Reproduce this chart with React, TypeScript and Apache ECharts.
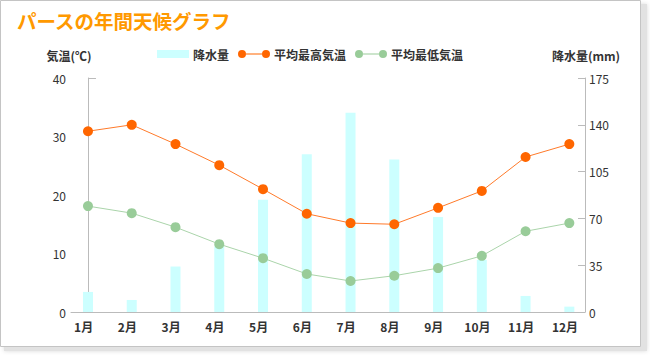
import React, { useEffect, useRef } from "react";
import * as echarts from "echarts";

const months = ["1月", "2月", "3月", "4月", "5月", "6月", "7月", "8月", "9月", "10月", "11月", "12月"];
const rainfall = [15, 9, 34, 49, 84, 118, 149, 114, 71, 39, 12, 4];
const highTemp = [30.9, 32.0, 28.7, 25.1, 21.0, 16.8, 15.2, 15.0, 17.8, 20.7, 26.5, 28.7];
const lowTemp = [18.1, 16.9, 14.5, 11.6, 9.2, 6.5, 5.3, 6.2, 7.5, 9.6, 13.8, 15.2];
const tempTicks = [0, 10, 20, 30, 40];
const rainTicks = [0, 35, 70, 105, 140, 175];
const tempAxisName = "気温(℃)";
const rainAxisName = "降水量(mm)";

const FONT = "'Noto Sans CJK JP', 'Noto Sans', sans-serif";
const legendLineIcon =
  "path://M0,4a4,4 0 1,0 8,0a4,4 0 1,0 -8,0z M8,3.5h16v1h-16z M24,4a4,4 0 1,0 8,0a4,4 0 1,0 -8,0z";

export default function App() {
  const ref = useRef<HTMLDivElement>(null);
  useEffect(() => {
    document.body.style.margin = "0";
    const chart = echarts.init(ref.current!, undefined, { renderer: "svg" });
    const pairs = (arr: number[]) => arr.map((v, i) => [i, v]);
    const nameStyle = { fill: "#333", fontSize: 12, fontWeight: "bold", fontFamily: FONT, align: "center", verticalAlign: "middle" };
    chart.setOption({
      animation: false,
      textStyle: { fontFamily: FONT },
      graphic: [
        {
          type: "rect",
          z: -10,
          shape: { x: 4, y: 4, width: 643, height: 347 },
          style: { fill: "#e2e2e2", shadowBlur: 4, shadowColor: "rgba(0,0,0,0.15)" },
        },
        {
          type: "rect",
          z: -9,
          shape: { x: 0.5, y: 0.5, width: 640, height: 346 },
          style: { fill: "#fff", stroke: "#c4c4c4", lineWidth: 1 },
        },
        { type: "text", x: 69, y: 55, style: { ...nameStyle, text: tempAxisName } },
        { type: "text", x: 586, y: 55, style: { ...nameStyle, text: rainAxisName } },
      ],
      title: {
        text: "パースの年間天候グラフ",
        left: 17,
        top: 11,
        padding: 0,
        textStyle: { color: "#ff9900", fontSize: 19.5, fontWeight: "bold", fontFamily: FONT },
      },
      legend: {
        left: 157,
        top: 48,
        padding: 0,
        itemGap: 9,
        itemWidth: 32,
        itemHeight: 8,
        textStyle: { color: "#333", fontSize: 12, fontWeight: "bold", fontFamily: FONT, padding: [0, 0, 0, -1] },
        data: [
          { name: "降水量", icon: "rect" },
          { name: "平均最高気温", icon: legendLineIcon },
          { name: "平均最低気温", icon: legendLineIcon },
        ],
      },
      grid: { left: 71, right: 65, top: 78, bottom: 45 },
      xAxis: {
        type: "value",
        min: -0.388,
        max: 11.358,
        splitLine: { show: false },
        axisTick: { show: false },
        axisLine: { show: true, lineStyle: { color: "#bbb" } },
        axisLabel: {
          customValues: months.map((_, i) => i - 0.1),
          formatter: (v: number) => months[Math.round(v)] ?? "",
          color: "#333",
          fontSize: 12,
          fontWeight: "bold",
          margin: 8,
        },
      },
      yAxis: [
        {
          type: "value",
          min: 0,
          max: 40,
          interval: 10,
          splitLine: { show: false },
          axisLine: { show: true, lineStyle: { color: "#bbb" } },
          axisTick: { show: true, inside: true, length: 8, customValues: [40], lineStyle: { color: "#bbb" } },
          axisLabel: { color: "#333", fontSize: 12, margin: 5, customValues: tempTicks },
        },
        {
          type: "value",
          min: 0,
          max: 175,
          interval: 35,
          splitLine: { show: false },
          axisLine: { show: true, lineStyle: { color: "#bbb" } },
          axisTick: { show: true, inside: true, length: 7, lineStyle: { color: "#bbb" } },
          axisLabel: { color: "#333", fontSize: 12, margin: 4, customValues: rainTicks },
        },
      ],
      series: [
        {
          name: "降水量",
          type: "bar",
          yAxisIndex: 1,
          barWidth: 10,
          itemStyle: { color: "#ccffff" },
          data: pairs(rainfall),
          z: 1,
        },
        {
          name: "平均最高気温",
          type: "line",
          yAxisIndex: 0,
          symbol: "circle",
          symbolSize: 10,
          lineStyle: { color: "#ff7a2a", width: 1 },
          itemStyle: { color: "#ff6600" },
          data: pairs(highTemp),
          z: 3,
        },
        {
          name: "平均最低気温",
          type: "line",
          yAxisIndex: 0,
          symbol: "circle",
          symbolSize: 10,
          lineStyle: { color: "#aad4aa", width: 1 },
          itemStyle: { color: "#99cc99" },
          data: pairs(lowTemp),
          z: 3,
        },
      ],
    });
    return () => chart.dispose();
  }, []);
  return <div ref={ref} style={{ width: 650, height: 357 }} />;
}
